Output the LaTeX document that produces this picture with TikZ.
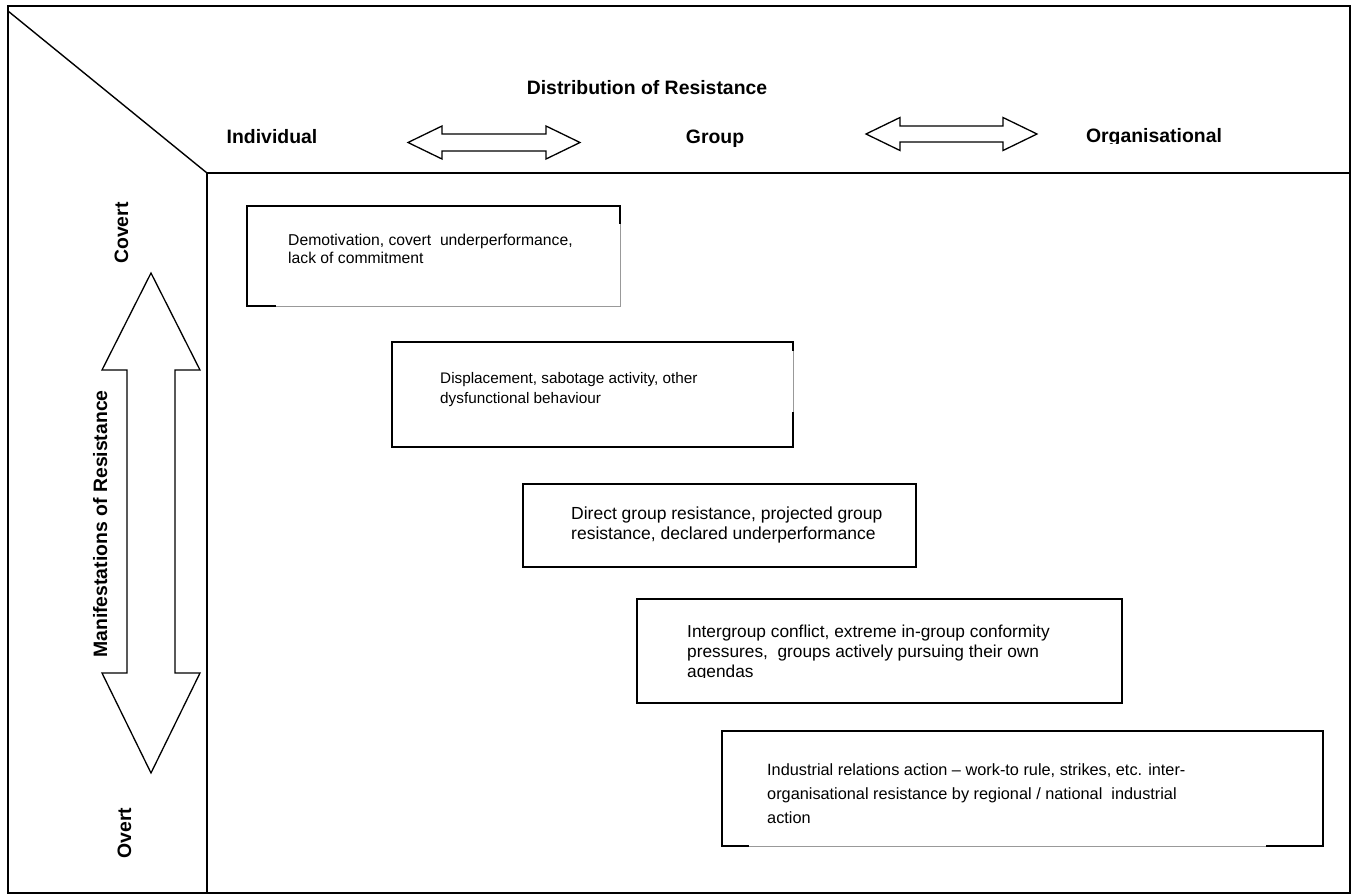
\documentclass[tikz,border=0pt]{standalone}
\usepackage{fontspec}
\setmainfont{Liberation Sans}
\newcommand\headfont{\fontsize{19.4}{23}\selectfont\bfseries}
\begin{document}
\begin{tikzpicture}[x=1pt,y=-1pt,
  frameline/.style={line width=2pt,black},
  diagline/.style={line width=1.4pt,black},
  blockarrow/.style={line width=1.3pt,black,fill=white,line join=miter},
  boxedge/.style={line width=2pt,black,line cap=rect},
  faintedge/.style={line width=0.9pt,black!40},
  heading/.style={inner sep=0pt,anchor=base,font=\headfont},
  boxtext/.style={inner sep=0pt,anchor=west,align=left}
]
\useasboundingbox (0,0) rectangle (1353,895);

% outer frame and the header / axis dividers
\draw[frameline] (8,6) rectangle (1350,893);
\draw[diagline] (8,11) -- (207,173);
\draw[frameline] (207,893) -- (207,173) -- (1350,173);

% horizontal axis headings
\node[heading] (dist) at (647,94) {Distribution of Resistance};
\node[heading] (indiv) at (272,143) {Individual};
\node[heading] (group) at (715,143) {Group};
\begin{scope}
  \clip (1050,110) rectangle (1260,143.5);
  \node[heading] (org) at (1154,142) {Organisational};
\end{scope}

% double block arrows between the headings
\draw[blockarrow] (408,142.5) -- (442,126) -- (442,134) -- (546,134) -- (546,126)
  -- (580,142.5) -- (546,159) -- (546,151) -- (442,151) -- (442,159) -- cycle;
\draw[blockarrow] (866,134) -- (900,117.5) -- (900,126) -- (1003,126) -- (1003,117.5)
  -- (1037,134) -- (1003,150.5) -- (1003,142) -- (900,142) -- (900,150.5) -- cycle;

% vertical axis
\node[heading,rotate=90] (covert) at (128,233) {Covert};
\node[heading,rotate=90] (overt) at (131,833) {Overt};
\node[heading,rotate=90] (manif) at (107,524) {Manifestations of Resistance};
\draw[blockarrow] (151,273) -- (200,370) -- (175,370) -- (175,673) -- (200,673)
  -- (151,773) -- (102,673) -- (127,673) -- (127,370) -- (102,370) -- cycle;

% box 1
\draw[faintedge] (620,223) -- (620,306) -- (275,306);
\draw[boxedge] (275,306) -- (247,306) -- (247,206) -- (620,206) -- (620,223);
\node[boxtext,font=\fontsize{15.7}{17.5}\selectfont] (t1) at (288,249)
  {Demotivation, covert\ \ underperformance,\\lack of commitment};

% box 2
\draw[faintedge] (793,350) -- (793,413);
\draw[boxedge] (793,350) -- (793,342) -- (392,342) -- (392,447) -- (793,447) -- (793,413);
\node[boxtext,font=\fontsize{15.3}{20}\selectfont] (t2) at (440,390)
  {Displacement, sabotage activity, other\\dysfunctional behaviour};

% box 3
\draw[boxedge] (523,484) rectangle (916,567);
\node[boxtext,font=\fontsize{17.5}{20}\selectfont] (t3) at (571,525)
  {Direct group resistance, projected group\\resistance, declared underperformance};

% box 4 (last line cut off)
\draw[boxedge] (637,599) rectangle (1122,703);
\begin{scope}
  \clip (640,605) rectangle (1115,677);
  \node[boxtext,font=\fontsize{17.3}{20}\selectfont] (t4) at (687,653)
    {Intergroup conflict, extreme in-group conformity\\pressures,\ \ groups actively pursuing their own\\agendas};
\end{scope}

% box 5
\draw[faintedge] (748,846) -- (1267,846);
\draw[boxedge] (748,846) -- (722,846) -- (722,731) -- (1323,731) -- (1323,846) -- (1267,846);
\node[boxtext,font=\fontsize{16.3}{24}\selectfont] (t5) at (767,794)
  {Industrial relations action -- work-to rule, strikes, etc. inter-\\organisational resistance by regional / national\ \ industrial\\action};
\end{tikzpicture}
\end{document}
